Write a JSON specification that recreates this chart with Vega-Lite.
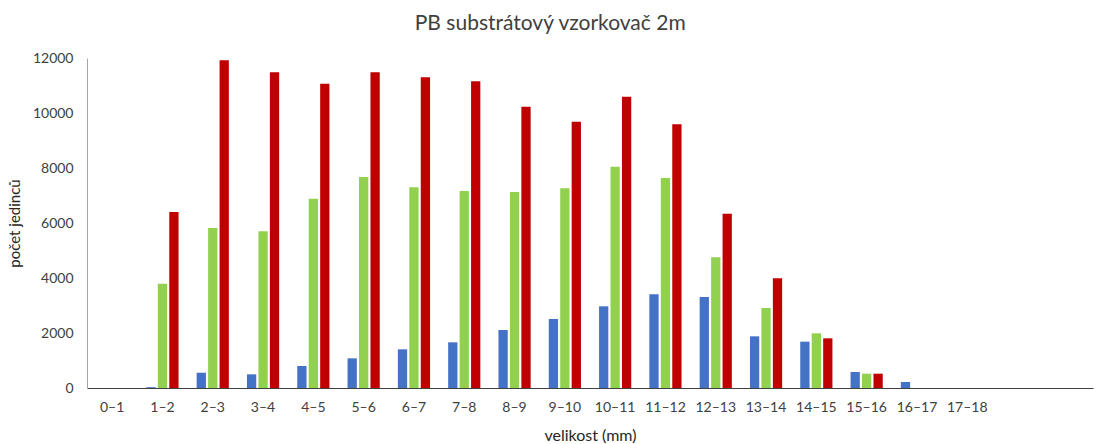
{
  "$schema": "https://vega.github.io/schema/vega-lite/v6.json",
  "autosize": {"type": "none"},
  "width": 1006,
  "height": 330,
  "padding": {"left": 87, "top": 58, "right": 4, "bottom": 56},
  "background": "white",
  "title": {
    "text": "PB substrátový vzorkovač 2m",
    "font": "Lato",
    "fontSize": 21,
    "fontWeight": "normal",
    "color": "#404040",
    "anchor": "middle",
    "frame": "bounds",
    "offset": 17
  },
  "config": {
    "view": {"stroke": null},
    "axis": {"labelFont": "Lato", "titleFont": "Lato", "labelColor": "#404040", "titleColor": "#262626", "titleFontWeight": "normal", "grid": false, "ticks": false}
  },
  "data": {
    "values": [
      {"velikost": "0–1", "serie": "s1", "pocet": 0},
      {"velikost": "0–1", "serie": "s2", "pocet": 0},
      {"velikost": "0–1", "serie": "s3", "pocet": 0},
      {"velikost": "1–2", "serie": "s1", "pocet": 30},
      {"velikost": "1–2", "serie": "s2", "pocet": 3790},
      {"velikost": "1–2", "serie": "s3", "pocet": 6400},
      {"velikost": "2–3", "serie": "s1", "pocet": 557},
      {"velikost": "2–3", "serie": "s2", "pocet": 5818},
      {"velikost": "2–3", "serie": "s3", "pocet": 11915},
      {"velikost": "3–4", "serie": "s1", "pocet": 497},
      {"velikost": "3–4", "serie": "s2", "pocet": 5696},
      {"velikost": "3–4", "serie": "s3", "pocet": 11478},
      {"velikost": "4–5", "serie": "s1", "pocet": 800},
      {"velikost": "4–5", "serie": "s2", "pocet": 6884},
      {"velikost": "4–5", "serie": "s3", "pocet": 11066},
      {"velikost": "5–6", "serie": "s1", "pocet": 1079},
      {"velikost": "5–6", "serie": "s2", "pocet": 7673},
      {"velikost": "5–6", "serie": "s3", "pocet": 11478},
      {"velikost": "6–7", "serie": "s1", "pocet": 1406},
      {"velikost": "6–7", "serie": "s2", "pocet": 7297},
      {"velikost": "6–7", "serie": "s3", "pocet": 11296},
      {"velikost": "7–8", "serie": "s1", "pocet": 1661},
      {"velikost": "7–8", "serie": "s2", "pocet": 7163},
      {"velikost": "7–8", "serie": "s3", "pocet": 11151},
      {"velikost": "8–9", "serie": "s1", "pocet": 2109},
      {"velikost": "8–9", "serie": "s2", "pocet": 7127},
      {"velikost": "8–9", "serie": "s3", "pocet": 10229},
      {"velikost": "9–10", "serie": "s1", "pocet": 2509},
      {"velikost": "9–10", "serie": "s2", "pocet": 7260},
      {"velikost": "9–10", "serie": "s3", "pocet": 9684},
      {"velikost": "10–11", "serie": "s1", "pocet": 2970},
      {"velikost": "10–11", "serie": "s2", "pocet": 8048},
      {"velikost": "10–11", "serie": "s3", "pocet": 10593},
      {"velikost": "11–12", "serie": "s1", "pocet": 3406},
      {"velikost": "11–12", "serie": "s2", "pocet": 7636},
      {"velikost": "11–12", "serie": "s3", "pocet": 9587},
      {"velikost": "12–13", "serie": "s1", "pocet": 3309},
      {"velikost": "12–13", "serie": "s2", "pocet": 4751},
      {"velikost": "12–13", "serie": "s3", "pocet": 6339},
      {"velikost": "13–14", "serie": "s1", "pocet": 1879},
      {"velikost": "13–14", "serie": "s2", "pocet": 2909},
      {"velikost": "13–14", "serie": "s3", "pocet": 3988},
      {"velikost": "14–15", "serie": "s1", "pocet": 1685},
      {"velikost": "14–15", "serie": "s2", "pocet": 1988},
      {"velikost": "14–15", "serie": "s3", "pocet": 1806},
      {"velikost": "15–16", "serie": "s1", "pocet": 582},
      {"velikost": "15–16", "serie": "s2", "pocet": 521},
      {"velikost": "15–16", "serie": "s3", "pocet": 521},
      {"velikost": "16–17", "serie": "s1", "pocet": 218},
      {"velikost": "16–17", "serie": "s2", "pocet": 0},
      {"velikost": "16–17", "serie": "s3", "pocet": 0},
      {"velikost": "17–18", "serie": "s1", "pocet": 0},
      {"velikost": "17–18", "serie": "s2", "pocet": 0},
      {"velikost": "17–18", "serie": "s3", "pocet": 0}
    ]
  },
  "mark": {"type": "bar"},
  "encoding": {
    "x": {
      "field": "velikost",
      "type": "nominal",
      "sort": null,
      "scale": {
        "domain": ["0–1","1–2","2–3","3–4","4–5","5–6","6–7","7–8","8–9","9–10","10–11","11–12","12–13","13–14","14–15","15–16","16–17","17–18","18–19","19–20"],
        "paddingInner": 0.36,
        "paddingOuter": 0.18
      },
      "axis": {
        "title": "velikost (mm)",
        "labelAngle": 0,
        "labelFontSize": 14,
        "labelPadding": 12,
        "titleFontSize": 16,
        "titlePadding": 13,
        "domainColor": "#404040",
        "domainWidth": 1,
        "labelExpr": "indexof(['18–19','19–20'], datum.value) >= 0 ? '' : datum.value"
      }
    },
    "xOffset": {
      "field": "serie",
      "type": "nominal",
      "scale": {"domain": ["s1","s2","s3"], "paddingInner": 0.19, "paddingOuter": 0}
    },
    "y": {
      "field": "pocet",
      "type": "quantitative",
      "scale": {"domain": [0, 12000], "nice": false},
      "axis": {
        "title": "počet jedinců",
        "format": "d",
        "values": [0, 2000, 4000, 6000, 8000, 10000, 12000],
        "labelFontSize": 14,
        "labelPadding": 14,
        "titleFontSize": 15,
        "titlePadding": 10,
        "domainColor": "#a6a6a6",
        "domainWidth": 1
      }
    },
    "color": {
      "field": "serie",
      "type": "nominal",
      "scale": {"domain": ["s1","s2","s3"], "range": ["#4472C4","#92D050","#C00000"]},
      "legend": null
    }
  }
}
